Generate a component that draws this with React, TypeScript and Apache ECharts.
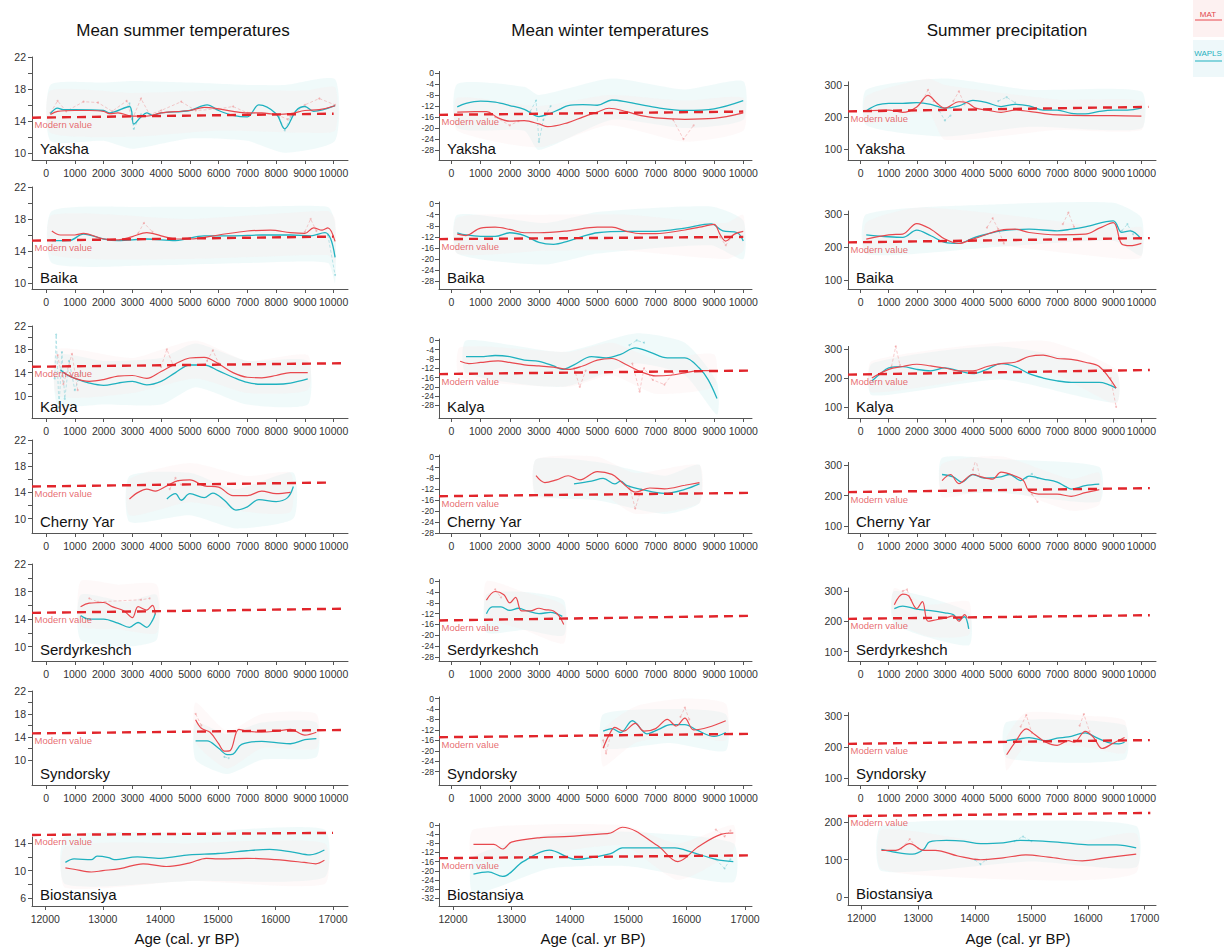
import React, { useEffect, useRef } from "react";
import * as echarts from "echarts";

// ---------- text ----------
const SITES = ["Yaksha", "Baika", "Kalya", "Cherny Yar", "Serdyrkeshch", "Syndorsky", "Biostansiya"];
const COLUMN_TITLES = ["Mean summer temperatures", "Mean winter temperatures", "Summer precipitation"];
const X_AXIS_TITLE = "Age (cal. yr BP)";
const MODERN_LABEL = "Modern value";
const LEGEND_NAMES = ["MAT", "WAPLS"];

// ---------- ticks ----------
const HOLOCENE_TICKS = [0, 1000, 2000, 3000, 4000, 5000, 6000, 7000, 8000, 9000, 10000];
const LATE_TICKS = [12000, 13000, 14000, 15000, 16000, 17000];
const SUMMER_LABELS = [10, 14, 18, 22];
const SUMMER_TICKS = [10, 12, 14, 16, 18, 20, 22];
const SUMMER_LABELS_LATE = [6, 10, 14];
const SUMMER_TICKS_LATE = [6, 8, 10, 12, 14];
const WINTER_LABELS = [0, -4, -8, -12, -16, -20, -24, -28];
const WINTER_LABELS_LATE = [0, -4, -8, -12, -16, -20, -24, -28, -32];
const PRECIP_LABELS = [100, 200, 300];
const PRECIP_LABELS_LATE = [0, 100, 200];

// ---------- data: mean summer temperature (°C) ----------
const SUMMER_MAT = [
  [[150, 14.8], [400, 15.2], [1000, 15.3], [1500, 15.3], [2000, 15.2], [2200, 14.9], [2500, 15.0], [3000, 14.6], [3500, 14.6], [4000, 15.0], [5000, 15.3], [5500, 15.7], [6000, 15.5], [6500, 15.2], [7000, 15.0], [7500, 15.0], [8000, 14.8], [8500, 14.9], [9000, 15.3], [9500, 15.4], [10050, 15.9]],
  [[200, 16.5], [500, 16.0], [1000, 16.0], [1300, 16.2], [2000, 15.5], [2500, 15.4], [3000, 15.8], [3500, 16.3], [4000, 15.9], [4500, 15.5], [5000, 15.5], [6000, 16.0], [7000, 16.5], [7800, 16.6], [8500, 16.3], [9000, 16.2], [9300, 16.9], [9600, 16.6], [9800, 16.9], [10050, 15.2]],
  [[600, 14.0], [1000, 13.0], [1500, 12.5], [2000, 12.8], [2500, 13.4], [3000, 13.5], [3500, 13.0], [4000, 14.2], [4500, 15.5], [5000, 16.5], [5500, 16.6], [6000, 15.5], [6500, 14.0], [7000, 13.2], [7500, 13.1], [8000, 13.5], [8500, 14.0], [9100, 14.0]],
  [[2900, 13.0], [3200, 14.0], [3500, 14.5], [3800, 14.2], [4200, 15.0], [4600, 15.8], [5000, 15.9], [5500, 15.0], [6000, 14.8], [6500, 13.5], [7000, 13.5], [7500, 14.2], [8000, 13.8], [8500, 14.0]],
  [[1200, 15.8], [1500, 16.3], [2000, 16.4], [2300, 15.8], [2700, 15.2], [3000, 14.2], [3200, 15.8], [3500, 15.3], [3700, 16.0], [3800, 14.7]],
  [[5200, 17.0], [5400, 15.5], [5700, 14.8], [6000, 12.8], [6200, 11.5], [6400, 11.6], [6700, 15.3], [7000, 15.0], [7500, 14.8], [8000, 15.0], [8500, 15.3], [9000, 14.3], [9400, 14.8]],
  [[12350, 10.4], [12500, 10.2], [12800, 9.8], [13000, 10.0], [13300, 10.3], [13700, 11.0], [14100, 10.6], [14500, 11.1], [14800, 11.8], [15000, 11.7], [15500, 11.8], [16000, 11.6], [16500, 11.2], [16700, 11.0], [16850, 11.5]],
];
const SUMMER_WAPLS = [
  [[150, 14.9], [400, 15.6], [600, 15.4], [1000, 15.4], [2000, 15.3], [2200, 15.0], [2900, 15.8], [3050, 13.6], [3300, 14.5], [3500, 15.0], [3700, 14.7], [4000, 15.0], [5000, 15.3], [5600, 16.0], [6000, 15.3], [6500, 14.7], [7000, 14.5], [7400, 16.0], [8000, 14.9], [8300, 13.0], [8700, 15.3], [9000, 15.8], [9300, 15.2], [10050, 15.9]],
  [[200, 15.3], [800, 15.3], [1300, 16.1], [2000, 15.5], [2500, 15.3], [3500, 15.5], [4500, 15.3], [5500, 15.9], [6500, 15.9], [7500, 16.0], [8500, 16.0], [9200, 15.9], [9700, 16.3], [9900, 15.5], [10050, 13.2]],
  [[500, 14.5], [700, 13.7], [1000, 13.0], [1500, 12.2], [2000, 11.8], [2500, 12.2], [3000, 12.5], [3500, 11.9], [4000, 12.5], [4500, 14.0], [5000, 15.3], [5500, 15.3], [6000, 14.3], [6500, 13.2], [7000, 12.3], [7500, 12.0], [8000, 12.0], [8500, 12.2], [9100, 12.9]],
  [[4200, 13.0], [4500, 13.8], [4700, 12.8], [5000, 13.8], [5500, 13.2], [5800, 13.9], [6200, 12.8], [6600, 11.3], [7000, 11.8], [7400, 12.9], [8000, 12.6], [8400, 13.2], [8600, 14.9]],
  [[1200, 14.5], [1500, 14.0], [2000, 14.0], [2500, 13.4], [2900, 12.8], [3200, 13.5], [3500, 12.8], [3700, 13.8], [3800, 14.8]],
  [[5200, 13.3], [5600, 13.3], [6000, 12.0], [6300, 10.9], [6500, 11.0], [6800, 12.7], [7500, 13.2], [8000, 13.0], [8500, 12.8], [9000, 13.5], [9400, 13.7]],
  [[12350, 11.2], [12500, 11.7], [12800, 11.6], [12900, 12.1], [13100, 11.9], [13200, 11.6], [13600, 12.0], [14000, 11.8], [14500, 12.3], [15000, 12.5], [15500, 12.9], [15900, 13.1], [16300, 12.7], [16600, 12.3], [16850, 13.0]],
];
// raw (un-smoothed) reconstructions, drawn as faint dotted lines; one list of segments per site
const SUMMER_RAW_MAT = [
  [[[150, 15.0], [400, 16.5], [700, 15.2], [1300, 16.4], [1800, 16.3], [2300, 15.2], [2800, 16.5], [3000, 14.2], [3300, 16.8], [3600, 14.8], [4000, 15.3], [4700, 16.4], [5200, 15.3], [6000, 15.5], [6500, 15.8], [7000, 15.0], [8000, 14.8], [8400, 14.2], [9000, 16.0], [9500, 16.8], [10050, 16.0]]],
  [[[3200, 16.2], [3400, 17.5], [3700, 16.4]], [[9000, 16.4], [9200, 18.0], [9400, 16.5]]],
  [[[400, 17.0], [600, 12.0], [900, 17.2], [1100, 11.0]], [[4000, 15.0], [4200, 18.0], [4400, 15.5]], [[5600, 16.0], [5800, 17.8], [6000, 15.6]]],
  [[[4300, 14.5], [4500, 16.2], [4700, 15.2]]],
  [[[1500, 17.0], [1800, 16.5], [3300, 16.8], [3600, 17.0]]],
  [[[5200, 18.0], [5400, 16.0]]],
  [],
];
const SUMMER_RAW_WAPLS = [
  [[[2900, 16.2], [3050, 13.0], [3300, 14.8]], [[8100, 14.5], [8300, 12.8], [8500, 14.5]]],
  [[[9800, 16.0], [10050, 11.0]]],
  [[[300, 13.0], [350, 20.5], [450, 8.0], [550, 17.5], [650, 9.5], [800, 16.0], [1000, 11.0], [1200, 14.0]]],
  [],
  [],
  [[[6200, 10.5], [6350, 10.3]]],
  [],
];
const SUMMER_MODERN = [
  [[-490, 14.4], [10000, 14.9]],
  [[-490, 15.3], [10000, 15.8]],
  [[-490, 15.0], [10300, 15.6]],
  [[-490, 14.9], [9800, 15.5]],
  [[-490, 14.9], [10300, 15.5]],
  [[-490, 14.6], [10300, 15.2]],
  [[11770, 15.2], [17000, 15.5]],
];
// [age, low, high]
const SUMMER_BAND_WAPLS = [
  [[150, 11.5, 18.5], [2000, 11.5, 18.8], [3000, 10.5, 19.0], [5000, 11.8, 18.8], [7000, 11.5, 18.5], [8300, 10.0, 18.5], [10050, 11.5, 19.2]],
  [[200, 12.5, 19.0], [3500, 12.2, 19.5], [7000, 12.5, 19.5], [9800, 12.5, 19.5], [10050, 10.0, 17.5]],
  [[400, 8.5, 17.0], [2000, 8.5, 16.0], [4000, 8.5, 16.5], [5200, 11.5, 19.0], [7000, 8.5, 16.0], [9100, 8.5, 16.0]],
  [[2900, 9.5, 16.5], [5000, 10.5, 17.0], [6600, 8.5, 14.5], [8600, 10.0, 17.0]],
  [[1200, 11.0, 17.5], [2800, 10.0, 16.5], [3850, 11.0, 17.5]],
  [[5200, 10.0, 16.5], [6300, 7.5, 14.5], [7500, 10.0, 16.5], [9400, 10.5, 16.5]],
  [[12350, 8.0, 15.0], [14500, 8.5, 15.5], [16850, 9.0, 16.0]],
];
const SUMMER_BAND_MAT = [
  [[150, 12.5, 17.8], [3000, 12.0, 17.5], [6000, 12.8, 17.8], [9000, 12.5, 17.8], [10050, 12.8, 18.2]],
  [[200, 13.5, 18.5], [5000, 13.0, 18.0], [9800, 13.5, 19.0], [10050, 12.5, 18.0]],
  [[400, 10.0, 18.0], [3000, 10.5, 16.5], [5200, 13.0, 19.5], [7000, 10.5, 16.0], [9100, 11.0, 17.0]],
  [[2900, 10.5, 16.0], [5000, 12.5, 18.5], [7000, 11.0, 16.5], [8500, 11.0, 17.0]],
  [[1200, 13.0, 19.5], [2500, 12.5, 19.0], [3850, 12.0, 19.0]],
  [[5200, 13.0, 20.0], [6300, 8.5, 15.0], [7500, 12.0, 18.0], [9400, 12.0, 18.0]],
  [[12350, 7.5, 13.5], [14500, 8.5, 14.0], [16850, 8.0, 14.0]],
];

// ---------- data: mean winter temperature (°C) ----------
const WINTER_MAT = [
  [[200, -14.2], [800, -14.0], [1200, -14.0], [1600, -16.3], [2000, -17.5], [2500, -17.3], [3000, -18.5], [3300, -19.5], [4000, -18.0], [4500, -16.0], [5000, -14.2], [5400, -12.8], [6000, -14.0], [6500, -15.5], [7000, -16.3], [8000, -16.8], [9000, -16.5], [10000, -14.5]],
  [[200, -11.0], [500, -11.5], [1000, -8.8], [1500, -8.5], [2000, -9.3], [2500, -10.5], [3000, -10.5], [4000, -9.8], [5000, -8.5], [5500, -8.5], [6000, -10.0], [6500, -10.8], [7000, -10.8], [8000, -9.5], [8500, -8.5], [9000, -7.5], [9200, -11.0], [9400, -13.5], [9700, -11.0], [10000, -10.0]],
  [[300, -9.0], [600, -10.0], [1000, -9.5], [1600, -8.8], [2000, -9.5], [2500, -10.5], [3000, -11.0], [3500, -11.5], [4000, -12.5], [4500, -11.0], [5000, -8.5], [5500, -7.8], [6000, -10.5], [6500, -13.5], [7000, -15.3], [7500, -15.0], [8000, -14.0], [8500, -13.0], [9000, -13.0]],
  [[2900, -7.0], [3200, -9.5], [3600, -8.5], [4000, -7.0], [4400, -8.5], [5000, -5.5], [5500, -6.5], [5800, -9.0], [6000, -11.0], [6300, -13.0], [6800, -11.5], [7300, -11.8], [8000, -10.5], [8500, -9.5]],
  [[1200, -7.0], [1500, -3.8], [1800, -5.0], [2000, -8.0], [2200, -6.0], [2400, -11.0], [2700, -11.0], [3000, -10.0], [3200, -10.5], [3500, -11.0], [3700, -13.0], [3850, -16.0]],
  [[5200, -19.0], [5400, -14.0], [5600, -11.0], [5900, -12.5], [6300, -9.5], [6600, -12.5], [7000, -11.5], [7400, -8.0], [7700, -10.5], [8000, -7.5], [8300, -12.0], [8800, -11.0], [9400, -8.5]],
  [[12350, -8.5], [12700, -8.5], [12850, -10.5], [13000, -7.5], [13500, -5.5], [14000, -5.0], [14500, -4.0], [14700, -3.5], [14900, -1.0], [15500, -9.0], [15850, -16.0], [16200, -9.5], [16600, -4.0], [16800, -3.5]],
];
const WINTER_WAPLS = [
  [[200, -12.3], [500, -11.0], [1000, -10.2], [1500, -10.6], [2000, -11.8], [2500, -13.2], [3000, -15.8], [3300, -15.0], [3700, -13.2], [4000, -11.8], [4500, -11.5], [5000, -11.7], [5500, -9.8], [6000, -10.5], [7000, -12.5], [8000, -13.6], [9000, -13.0], [10000, -10.0]],
  [[200, -10.5], [500, -11.3], [1000, -11.8], [1500, -11.8], [2000, -10.5], [2500, -11.5], [3000, -14.0], [3500, -14.7], [4000, -13.5], [4500, -11.8], [5000, -10.5], [6000, -10.0], [7000, -10.0], [8000, -8.8], [8900, -7.3], [9300, -9.8], [9800, -10.5], [10000, -13.5]],
  [[500, -7.0], [1000, -7.0], [1500, -6.5], [2000, -7.0], [2500, -8.5], [3000, -9.0], [3500, -11.0], [3800, -12.5], [4200, -10.5], [4800, -7.0], [5300, -7.5], [5800, -6.0], [6300, -3.2], [6800, -5.0], [7400, -7.5], [8000, -7.5], [8500, -12.0], [8800, -17.0], [9100, -25.0]],
  [[4200, -10.0], [4800, -9.0], [5200, -8.0], [5600, -10.0], [5800, -9.0], [6000, -10.5], [6500, -12.0], [7300, -13.5], [8000, -12.0], [8500, -10.0]],
  [[1200, -12.0], [1400, -9.5], [1700, -9.5], [2000, -10.8], [2300, -10.0], [2600, -11.0], [3000, -12.0], [3400, -11.5], [3800, -13.0]],
  [[5200, -12.5], [5500, -11.5], [5800, -13.0], [6200, -8.5], [6700, -13.5], [7100, -11.8], [7500, -10.0], [8000, -10.0], [8400, -12.0], [9000, -14.5], [9400, -13.0]],
  [[12350, -21.5], [12600, -20.5], [12850, -22.5], [13200, -16.0], [13650, -11.0], [14100, -15.0], [14700, -12.5], [14900, -10.0], [15300, -10.0], [15800, -10.0], [16100, -12.0], [16500, -15.0], [16800, -16.0]],
];
const WINTER_RAW_MAT = [
  [[[1500, -16.0], [2000, -19.0], [2300, -17.5]], [[7600, -17.0], [7950, -24.0], [8300, -19.0]]],
  [[[9200, -12.0], [9400, -15.0], [9600, -12.0]]],
  [[[6200, -10.0], [6450, -22.0], [6600, -12.0], [6900, -17.0], [7300, -19.0], [7600, -14.0]], [[4200, -12.0], [4400, -20.0], [4600, -13.0]]],
  [[[6100, -11.0], [6300, -19.0], [6500, -12.0]]],
  [[[1500, -3.0], [1700, -6.0]]],
  [[[5200, -16.0], [5300, -21.0], [5450, -14.0]], [[7850, -7.0], [8000, -3.5], [8150, -8.0]]],
  [[[16500, -2.0], [16650, -5.0], [16750, -2.5]]],
];
const WINTER_RAW_WAPLS = [
  [[[2700, -14.0], [2900, -10.0], [3000, -25.0], [3150, -17.0], [3400, -12.0]]],
  [],
  [[[6100, -2.0], [6350, 0.0], [6600, -1.0]]],
  [],
  [],
  [],
  [[[16500, -15.0], [16650, -19.0], [16750, -15.0]]],
];
const WINTER_MODERN = [
  [[-425, -15.2], [10000, -14.0]],
  [[-425, -12.8], [10000, -12.0]],
  [[-425, -14.5], [10200, -13.0]],
  [[-425, -14.5], [10200, -13.3]],
  [[-425, -14.5], [10200, -12.8]],
  [[-425, -14.8], [10200, -13.5]],
  [[11760, -14.5], [17050, -13.3]],
];
const WINTER_BAND_WAPLS = [
  [[200, -20, -4], [2500, -21, -5], [3000, -28, -8], [5500, -17, -2], [8000, -20, -6], [10000, -17, -3]],
  [[200, -18, -4], [3200, -22, -7], [5000, -18, -3], [8900, -15, -1], [10000, -20, -6]],
  [[500, -14, 0], [3800, -20, -5], [6300, -10, 3], [8000, -15, -1], [9100, -32, -18]],
  [[2900, -14, -1], [5000, -16, -2], [7300, -21, -7], [8500, -17, -3]],
  [[1200, -19, -5], [2500, -18, -4], [3850, -20, -7]],
  [[5200, -19, -6], [7500, -17, -4], [9400, -20, -6]],
  [[12350, -30, -14], [13650, -19, -4], [15000, -18, -3], [16800, -25, -8]],
];
const WINTER_BAND_MAT = [
  [[200, -21, -9], [3000, -27, -12], [5400, -19, -8], [8000, -25, -10], [10000, -21, -9]],
  [[200, -18, -5], [3200, -17, -4], [6000, -17, -4], [9400, -20, -7], [10000, -17, -4]],
  [[300, -16, -3], [4000, -20, -5], [5500, -15, -1], [7000, -23, -8], [9000, -20, -6]],
  [[2900, -15, -1], [5000, -13, 0], [6300, -21, -6], [8500, -17, -3]],
  [[1200, -13, 0], [2500, -18, -4], [3850, -23, -9]],
  [[5200, -26, -12], [6300, -17, -3], [8000, -14, 0], [9400, -16, -2]],
  [[12350, -16, -2], [14900, -9, 0], [15850, -24, -8], [16800, -11, 0]],
];

// ---------- data: summer precipitation (mm) ----------
const PRECIP_MAT = [
  [[200, 220], [1000, 222], [1500, 215], [2000, 232], [2400, 268], [2700, 245], [3000, 228], [3500, 248], [3800, 245], [4100, 228], [4500, 222], [5000, 215], [5500, 222], [6000, 218], [6500, 212], [7000, 207], [8000, 205], [9000, 205], [10000, 203]],
  [[200, 225], [1000, 238], [1500, 240], [2000, 272], [2500, 255], [3000, 225], [3500, 212], [4000, 225], [5000, 252], [5500, 255], [6000, 245], [7000, 238], [8000, 240], [8500, 258], [9000, 275], [9300, 210], [9600, 205], [10000, 212]],
  [[400, 200], [1000, 230], [1500, 240], [2000, 248], [2500, 242], [3000, 235], [3500, 225], [4000, 225], [4500, 240], [5000, 250], [5500, 255], [6000, 275], [6500, 280], [7000, 268], [7500, 265], [8000, 255], [8500, 240], [9100, 165]],
  [[2900, 250], [3200, 270], [3500, 240], [4000, 270], [4300, 262], [4700, 255], [5000, 278], [5500, 265], [5800, 250], [6000, 215], [6500, 205], [7000, 205], [7500, 198], [8000, 210], [8500, 220]],
  [[1200, 255], [1500, 290], [1700, 285], [2000, 242], [2200, 265], [2400, 200], [2700, 205], [3000, 210], [3300, 218], [3500, 200], [3700, 222], [3800, 210]],
  [[5200, 175], [5500, 215], [5900, 258], [6200, 240], [6600, 215], [7000, 205], [7400, 220], [7600, 215], [8000, 250], [8300, 230], [8600, 195], [9000, 212], [9400, 230]],
  [[12350, 125], [12600, 125], [12850, 143], [13100, 125], [13300, 125], [13700, 110], [14100, 100], [14500, 105], [14900, 113], [15300, 107], [15900, 97], [16300, 105], [16850, 115]],
];
const PRECIP_WAPLS = [
  [[200, 220], [600, 238], [1000, 243], [1500, 243], [2000, 245], [2500, 240], [3000, 228], [3500, 235], [4000, 252], [4500, 245], [5000, 233], [5500, 240], [6000, 235], [6500, 222], [7000, 222], [7500, 212], [8000, 210], [8500, 218], [9000, 222], [9500, 222], [10000, 228]],
  [[200, 238], [1000, 232], [1500, 230], [2000, 252], [2500, 235], [3000, 215], [3500, 212], [4000, 228], [4500, 240], [5000, 250], [6000, 255], [7000, 250], [7500, 255], [8000, 262], [9000, 280], [9300, 245], [9600, 250], [10000, 225]],
  [[400, 190], [700, 215], [1000, 235], [1500, 240], [2000, 230], [2500, 225], [3000, 235], [3500, 225], [4000, 215], [4500, 230], [5000, 250], [5500, 240], [6000, 215], [6500, 200], [7000, 190], [7500, 185], [8000, 185], [8500, 185], [9100, 165]],
  [[2900, 270], [3300, 262], [3600, 245], [4000, 270], [4400, 258], [5000, 262], [5300, 270], [5700, 250], [6000, 265], [6500, 255], [7000, 245], [7300, 230], [7500, 222], [8000, 233], [8500, 238]],
  [[1200, 242], [1500, 250], [2000, 240], [2500, 235], [3000, 228], [3300, 222], [3500, 205], [3700, 215], [3850, 175]],
  [[5200, 220], [5600, 225], [6000, 230], [6600, 220], [7000, 228], [7400, 232], [8000, 245], [8400, 230], [8800, 215], [9200, 210], [9400, 215]],
  [[12350, 128], [12600, 120], [12900, 115], [13100, 128], [13200, 148], [13500, 152], [13800, 150], [14100, 143], [14500, 145], [14800, 152], [15200, 150], [15600, 145], [16000, 140], [16500, 140], [16850, 132]],
];
const PRECIP_RAW_MAT = [
  [[[2200, 250], [2400, 285], [2600, 250]], [[3300, 250], [3500, 280], [3700, 240]]],
  [[[4500, 260], [4700, 288], [4900, 255], [5100, 212]], [[7200, 270], [7400, 305], [7600, 262]]],
  [[[1100, 240], [1250, 310], [1400, 245]], [[8900, 200], [9100, 100]]],
  [[[4000, 285], [4100, 320], [4250, 262]], [[6100, 205], [6300, 180]]],
  [[[1500, 300], [1650, 305], [1800, 270]]],
  [[[5700, 265], [5900, 302], [6100, 245]], [[7800, 268], [7950, 305], [8150, 250]]],
  [[[12700, 130], [12850, 155], [13000, 130]]],
];
const PRECIP_RAW_WAPLS = [
  [[[2800, 220], [3000, 190], [3200, 205]], [[4900, 250], [5200, 262], [5500, 245]]],
  [[[9300, 250], [9500, 270], [9700, 240]]],
  [],
  [[[5900, 258], [6100, 272], [6300, 258]]],
  [],
  [],
  [[[14700, 150], [14850, 162], [15000, 150]], [[14000, 100], [14100, 88], [14200, 100]]],
];
const PRECIP_MODERN = [
  [[-450, 218], [10250, 232]],
  [[-450, 215], [10300, 228]],
  [[-450, 212], [10300, 228]],
  [[-450, 212], [10300, 225]],
  [[-450, 208], [10300, 220]],
  [[-450, 210], [10300, 222]],
  [[11760, 217], [17100, 225]],
];
const PRECIP_BAND_WAPLS = [
  [[200, 175, 285], [3000, 140, 320], [6000, 170, 285], [10000, 165, 280]],
  [[200, 180, 300], [4700, 200, 330], [9000, 220, 335], [10000, 175, 290]],
  [[400, 140, 250], [5000, 195, 310], [9100, 115, 220]],
  [[2900, 215, 325], [5000, 210, 320], [8500, 180, 295]],
  [[1200, 190, 300], [3850, 120, 230]],
  [[5200, 165, 280], [9400, 160, 270]],
  [[12350, 70, 190], [15000, 95, 205], [16850, 80, 190]],
];
const PRECIP_BAND_MAT = [
  [[200, 180, 265], [2400, 215, 320], [3000, 130, 300], [7000, 160, 255], [10000, 160, 250]],
  [[200, 180, 275], [2000, 225, 320], [5000, 205, 300], [9300, 165, 255], [10000, 170, 260]],
  [[400, 150, 260], [6500, 225, 330], [9100, 110, 230]],
  [[2900, 195, 305], [5000, 225, 330], [7500, 150, 255], [8500, 170, 275]],
  [[1200, 205, 310], [2400, 150, 255], [3850, 155, 265]],
  [[5200, 125, 230], [5900, 205, 310], [8000, 200, 300], [9400, 180, 285]],
  [[12350, 75, 180], [14100, 50, 150], [15900, 45, 150], [16850, 65, 170]],
];

// ---------- layout (pixels) ----------
const FONT = "'Liberation Sans', Arial, Helvetica, sans-serif";
const COL_LEFT = [32, 439, 848];
const COL_WIDTH = [316, 313, 308];
const X_RANGE_HOLO = [[-490, 10500], [-425, 10300], [-450, 10520]];
const X_RANGE_LATE = [[11770, 17260], [11760, 17120], [11760, 17200]];
// [top px, bottom px, yMin, yMax]
const LAYOUT = [
  [[57, 160, 9.1, 22], [187, 289, 9.25, 22], [326, 418, 6.2, 22], [440, 533, 7.8, 22], [564, 661, 7.9, 22], [691, 785, 5.6, 22], [837, 906, 4.85, 14.9]],
  [[71.4, 160, -31.6, 0.6], [202, 289, -30.8, 0.6], [339, 418, -33.4, 0.6], [455, 533, -28, 0.6], [579.6, 661, -29.5, 0.6], [697, 785, -33.1, 0.6], [823.6, 906, -35.4, 0.6]],
  [[81.8, 160, 66.8, 310], [211, 289, 73.9, 310], [346.4, 418.5, 59.3, 310], [462.4, 533, 76.9, 310], [588, 661, 68.6, 310], [712.6, 785, 78.2, 310], [815.6, 905.5, -22.3, 218]],
];
const Y_LABEL_SIZE = [10.5, 8.6, 10.5];
const TITLE_X = [183, 610, 1007];
const AGE_X = [187, 593, 1018];

const RED = "#e8484e";
const TEAL = "#1fb1bf";
const MODERN_RED = "#e1252b";
const AXIS_COLOR = "#555";
const LABEL_COLOR = "#333";

const COLUMNS = [
  { mat: SUMMER_MAT, wapls: SUMMER_WAPLS, rawM: SUMMER_RAW_MAT, rawW: SUMMER_RAW_WAPLS, modern: SUMMER_MODERN, bandW: SUMMER_BAND_WAPLS, bandM: SUMMER_BAND_MAT },
  { mat: WINTER_MAT, wapls: WINTER_WAPLS, rawM: WINTER_RAW_MAT, rawW: WINTER_RAW_WAPLS, modern: WINTER_MODERN, bandW: WINTER_BAND_WAPLS, bandM: WINTER_BAND_MAT },
  { mat: PRECIP_MAT, wapls: PRECIP_WAPLS, rawM: PRECIP_RAW_MAT, rawW: PRECIP_RAW_WAPLS, modern: PRECIP_MODERN, bandW: PRECIP_BAND_WAPLS, bandM: PRECIP_BAND_MAT },
];

function yTicks(col: number, late: boolean) {
  if (col === 0) return late ? { labels: SUMMER_LABELS_LATE, ticks: SUMMER_TICKS_LATE } : { labels: SUMMER_LABELS, ticks: SUMMER_TICKS };
  if (col === 1) {
    const l = late ? WINTER_LABELS_LATE : WINTER_LABELS;
    return { labels: l, ticks: l };
  }
  const l = late ? PRECIP_LABELS_LATE : PRECIP_LABELS;
  return { labels: l, ticks: l };
}

const plain = (v: number) => String(v);

function bandSeries(band: number[][], fill: string, idx: number) {
  return {
    type: "custom",
    xAxisIndex: idx,
    yAxisIndex: idx,
    silent: true,
    z: 1,
    encode: { x: 0, y: [1, 2] },
    data: band,
    renderItem: (params: any, api: any) => {
      if (params.dataIndex !== 0) return null;
      const upper = band.map((r) => api.coord([r[0], r[2]]));
      const lower = band.slice().reverse().map((r) => api.coord([r[0], r[1]]));
      return {
        type: "polygon",
        shape: { points: upper.concat(lower), smooth: 0.2 },
        style: { fill },
        silent: true,
      };
    },
  };
}

function rawSeries(segment: number[][], color: string, idx: number) {
  return {
    type: "line",
    xAxisIndex: idx,
    yAxisIndex: idx,
    data: segment,
    symbol: "circle",
    symbolSize: 2,
    showSymbol: true,
    silent: true,
    itemStyle: { color, opacity: 0.55 },
    lineStyle: { color, width: 0.8, type: [3, 2], opacity: 0.55 },
    z: 2,
  };
}

function buildOption() {
  const grids: any[] = [];
  const xAxes: any[] = [];
  const yAxes: any[] = [];
  const series: any[] = [];
  const graphics: any[] = [];

  for (let c = 0; c < 3; c++) {
    const colData = COLUMNS[c];
    for (let r = 0; r < 7; r++) {
      const idx = c * 7 + r;
      const late = r === 6;
      const [top, bottom, yMin, yMax] = LAYOUT[c][r];
      grids.push({ left: COL_LEFT[c], top, width: COL_WIDTH[c], height: bottom - top, containLabel: false });
      const xr = late ? X_RANGE_LATE[c] : X_RANGE_HOLO[c];
      const xt = late ? LATE_TICKS : HOLOCENE_TICKS;
      xAxes.push({
        type: "value",
        gridIndex: idx,
        min: xr[0],
        max: xr[1],
        axisLine: { show: true, onZero: false, lineStyle: { color: AXIS_COLOR, width: 1 } },
        axisTick: { show: true, length: 4, customValues: xt, lineStyle: { color: AXIS_COLOR } },
        axisLabel: {
          customValues: xt, formatter: plain, fontSize: 10.5, color: LABEL_COLOR, fontFamily: FONT, margin: 7,
          showMinLabel: true, showMaxLabel: true, hideOverlap: false,
        },
        splitLine: { show: false },
      });
      const yt = yTicks(c, late);
      yAxes.push({
        type: "value",
        gridIndex: idx,
        min: yMin,
        max: yMax,
        axisLine: { show: true, onZero: false, lineStyle: { color: AXIS_COLOR, width: 1 } },
        axisTick: { show: true, length: 4, customValues: yt.ticks, lineStyle: { color: AXIS_COLOR } },
        axisLabel: {
          customValues: yt.labels, formatter: plain, fontSize: Y_LABEL_SIZE[c], color: LABEL_COLOR, fontFamily: FONT,
          margin: c === 1 ? 5 : 6, showMinLabel: true, showMaxLabel: true, hideOverlap: false,
        },
        splitLine: { show: false },
      });

      series.push(bandSeries(colData.bandW[r], "rgba(206,238,240,0.3)", idx));
      series.push(bandSeries(colData.bandM[r], "rgba(252,230,230,0.26)", idx));
      colData.rawM[r].forEach((seg: number[][]) => series.push(rawSeries(seg, "#ef8a8d", idx)));
      colData.rawW[r].forEach((seg: number[][]) => series.push(rawSeries(seg, "#6cc8d2", idx)));
      series.push({
        type: "line",
        name: "WAPLS",
        xAxisIndex: idx,
        yAxisIndex: idx,
        data: colData.wapls[r],
        smooth: 0.35,
        symbol: "none",
        lineStyle: { color: TEAL, width: 1.3 },
        z: 3,
      });
      series.push({
        type: "line",
        name: "MAT",
        xAxisIndex: idx,
        yAxisIndex: idx,
        data: colData.mat[r],
        smooth: 0.35,
        symbol: "none",
        lineStyle: { color: RED, width: 1.2 },
        z: 3,
      });
      series.push({
        type: "line",
        name: "Modern",
        xAxisIndex: idx,
        yAxisIndex: idx,
        data: colData.modern[r],
        symbol: "none",
        clip: false,
        lineStyle: { color: MODERN_RED, width: 2.4, type: [9, 6] },
        z: 4,
      });
      series.push({
        type: "scatter",
        xAxisIndex: idx,
        yAxisIndex: idx,
        data: [colData.modern[r][0]],
        symbolSize: 1,
        clip: false,
        itemStyle: { color: "rgba(0,0,0,0)" },
        label: {
          show: true,
          formatter: MODERN_LABEL,
          position: "right",
          offset: [-3, 7],
          color: "#e2474c",
          fontSize: 9.5,
          fontFamily: FONT,
        },
        z: 5,
      });

      graphics.push({
        type: "text",
        x: COL_LEFT[c] + 8,
        y: bottom - 12,
        style: {
          text: SITES[r],
          fill: "#111",
          fontSize: 15,
          fontFamily: FONT,
          align: "left",
          verticalAlign: "middle",
          textAlign: "left",
          textVerticalAlign: "middle",
        },
        z: 10,
      });
    }
    graphics.push({
      type: "text",
      x: TITLE_X[c],
      y: 30,
      style: { text: COLUMN_TITLES[c], fill: "#111", fontSize: 17, fontFamily: FONT, align: "center", verticalAlign: "middle", textAlign: "center", textVerticalAlign: "middle" },
    });
    graphics.push({
      type: "text",
      x: AGE_X[c],
      y: 938,
      style: { text: X_AXIS_TITLE, fill: "#111", fontSize: 15, fontFamily: FONT, align: "center", verticalAlign: "middle", textAlign: "center", textVerticalAlign: "middle" },
    });
  }

  // legend
  graphics.push({ type: "rect", shape: { x: 1193, y: 0, width: 31, height: 37 }, style: { fill: "#fdf1f1" } });
  graphics.push({ type: "rect", shape: { x: 1193, y: 40, width: 31, height: 37 }, style: { fill: "#eef8fa" } });
  graphics.push({
    type: "text", x: 1208, y: 14,
    style: { text: LEGEND_NAMES[0], fill: "#e2474c", fontSize: 8, fontFamily: FONT, align: "center", verticalAlign: "middle", textAlign: "center", textVerticalAlign: "middle" },
  });
  graphics.push({ type: "line", shape: { x1: 1195, y1: 20, x2: 1222, y2: 20 }, style: { stroke: RED, lineWidth: 1 } });
  graphics.push({
    type: "text", x: 1208, y: 53,
    style: { text: LEGEND_NAMES[1], fill: TEAL, fontSize: 8, fontFamily: FONT, align: "center", verticalAlign: "middle", textAlign: "center", textVerticalAlign: "middle" },
  });
  graphics.push({ type: "line", shape: { x1: 1195, y1: 61, x2: 1222, y2: 61 }, style: { stroke: TEAL, lineWidth: 1 } });

  return {
    animation: false,
    backgroundColor: "#fff",
    textStyle: { fontFamily: FONT },
    grid: grids,
    xAxis: xAxes,
    yAxis: yAxes,
    series,
    graphic: graphics,
  };
}

export default function App() {
  const ref = useRef<HTMLDivElement>(null);
  useEffect(() => {
    document.body.style.margin = "0";
    const chart = echarts.init(ref.current as HTMLDivElement, null, { renderer: "svg" });
    chart.setOption(buildOption() as any);
    return () => chart.dispose();
  }, []);
  return (
    <div
      ref={ref}
      style={{ position: "absolute", left: 0, top: 0, width: 1224, height: 949, background: "#fff" }}
    />
  );
}
